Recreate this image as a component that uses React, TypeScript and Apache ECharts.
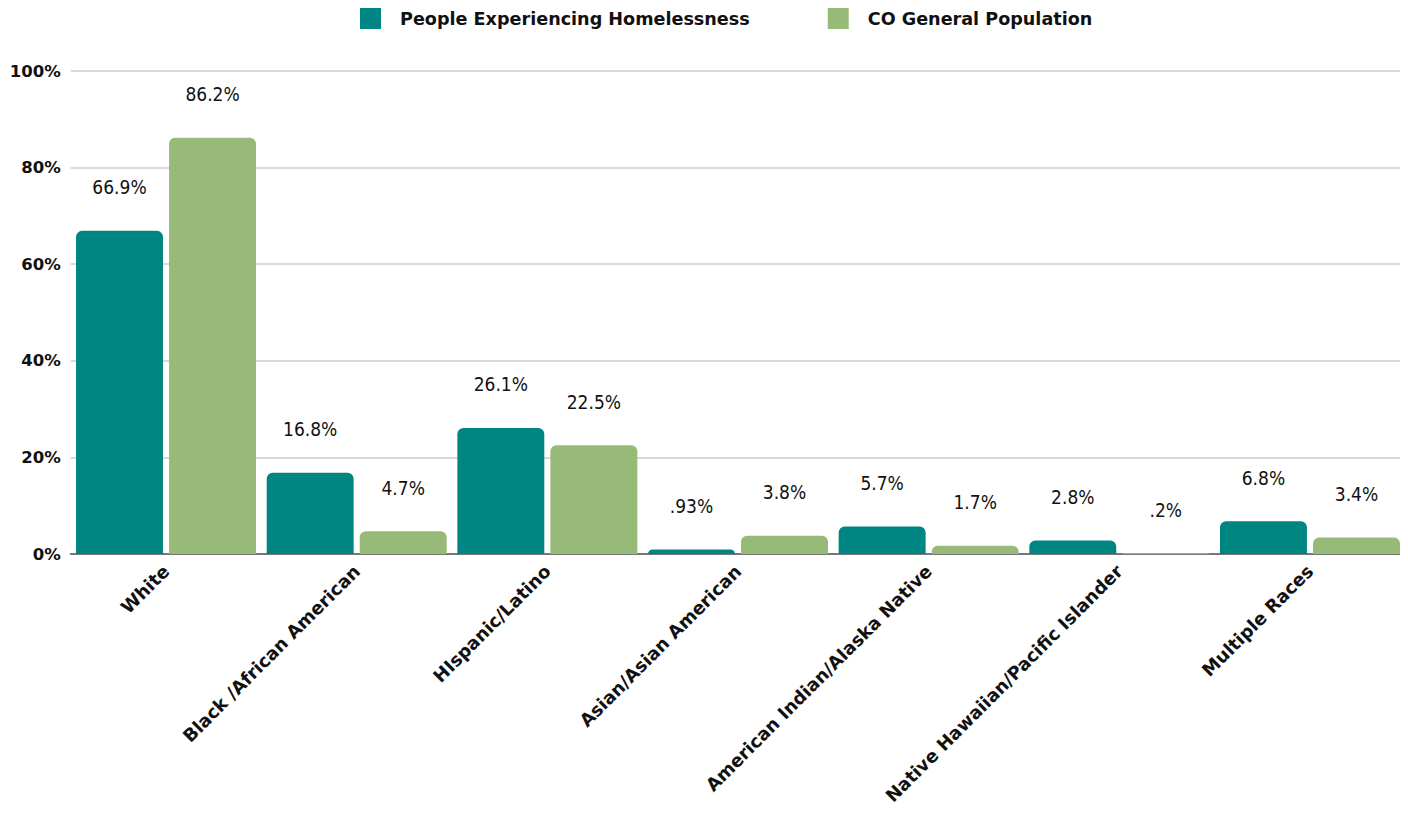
import React, { useEffect, useRef } from "react";
import * as echarts from "echarts";

const categories = [
  "White",
  "Black /African American",
  "HIspanic/Latino",
  "Asian/Asian American",
  "American Indian/Alaska Native",
  "Native Hawaiian/Pacific Islander",
  "Multiple Races",
];
const homelessValues = [66.9, 16.8, 26.1, 0.93, 5.7, 2.8, 6.8];
const homelessLabels = ["66.9%", "16.8%", "26.1%", ".93%", "5.7%", "2.8%", "6.8%"];
const generalValues = [86.2, 4.7, 22.5, 3.8, 1.7, 0.2, 3.4];
const generalLabels = ["86.2%", "4.7%", "22.5%", "3.8%", "1.7%", ".2%", "3.4%"];
const seriesNames = ["People Experiencing Homelessness", "CO General Population"];

const TEAL = "#008682";
const GREEN = "#98BA78";
const BOLD_FONT = "'DejaVu Sans', sans-serif";
const NARROW_FONT = "'Liberation Sans Narrow', 'DejaVu Sans Condensed', 'Roboto', sans-serif";

export default function App() {
  const ref = useRef<HTMLDivElement>(null);
  useEffect(() => {
    if (!ref.current) return;
    const chart = echarts.init(ref.current, undefined, { renderer: "svg" });
    const labelStyle = (labels: string[]) => ({
      show: true,
      position: "top" as const,
      distance: 34,
      fontFamily: NARROW_FONT,
      fontSize: 19,
      color: "#111",
      formatter: (p: any) => labels[p.dataIndex],
    });
    chart.setOption({
      animation: false,
      backgroundColor: "#ffffff",
      legend: {
        top: 8,
        left: 360,
        padding: 0,
        itemWidth: 21,
        itemHeight: 21,
        itemGap: 78,
        icon: "rect",
        textStyle: {
          fontFamily: BOLD_FONT,
          fontWeight: "bold",
          fontSize: 17.6,
          color: "#111",
          padding: [0, 0, 0, 14],
        },
        data: seriesNames,
      },
      grid: {
        left: 70.7,
        right: 2.7,
        top: 71,
        bottom: 264,
        containLabel: false,
      },
      xAxis: {
        type: "category",
        data: categories,
        axisLine: { show: true, lineStyle: { color: "#777", width: 2 } },
        axisTick: { show: false },
        axisLabel: {
          rotate: 45,
          interval: 0,
          margin: 14,
          fontFamily: BOLD_FONT,
          fontWeight: "bold",
          fontSize: 18,
          color: "#111",
        },
      },
      yAxis: {
        type: "value",
        min: 0,
        max: 100,
        interval: 20,
        axisLine: { show: false },
        axisTick: { show: false },
        splitLine: { lineStyle: { color: "#cccccc", width: 1.5 } },
        axisLabel: {
          formatter: "{value}%",
          margin: 10,
          fontFamily: BOLD_FONT,
          fontWeight: "bold",
          fontSize: 16.5,
          color: "#111",
        },
      },
      series: [
        {
          name: seriesNames[0],
          type: "bar",
          data: homelessValues,
          barGap: "7%",
          barCategoryGap: "5.6%",
          itemStyle: { color: TEAL, borderRadius: [6, 6, 0, 0] },
          label: labelStyle(homelessLabels),
        },
        {
          name: seriesNames[1],
          type: "bar",
          data: generalValues,
          itemStyle: { color: GREEN, borderRadius: [6, 6, 0, 0] },
          label: labelStyle(generalLabels),
        },
      ],
    });
    return () => chart.dispose();
  }, []);
  return <div ref={ref} style={{ width: 1408, height: 818, margin: -8 }} />;
}
